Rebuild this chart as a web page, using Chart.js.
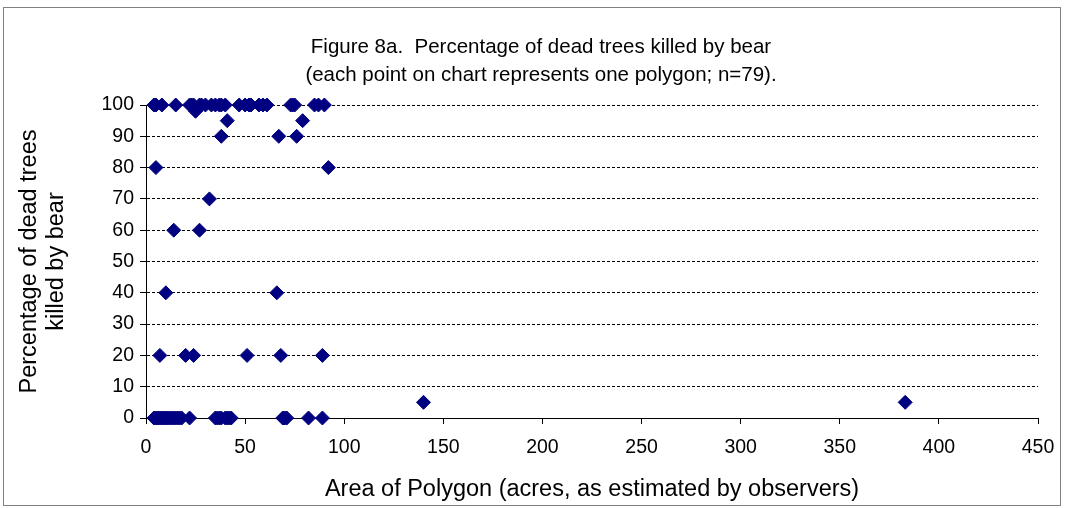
<!DOCTYPE html>
<html>
<head>
<meta charset="utf-8">
<script src="https://cdn.jsdelivr.net/npm/chart.js@4"></script>
<style>
  html, body { margin: 0; padding: 0; background: #fff; overflow: hidden; }
  #frame { position: absolute; left: 3px; top: 7px; width: 1058px; height: 499px; box-sizing: border-box; border: 1px solid #808080; }
  #wrap { position: absolute; left: 4px; top: 8px; width: 1074px; height: 496px; }
</style>
</head>
<body>
<div id="frame"></div>
<div id="wrap"><canvas id="chart"></canvas></div>
<script>
// area of each polygon (acres) and % of dead trees killed by bear, n=79
const areaAcres = [
  4, 5, 8, 15, 22, 23, 24, 27, 28, 30, 33, 35, 37, 38, 40, 47, 50, 52, 53, 57, 59, 61, 73, 74, 75, 85, 87, 90,
  25,
  41, 79,
  38, 67, 76,
  5, 92,
  32,
  14, 27,
  10, 66,
  7, 20, 24, 51, 68, 89,
  140, 383,
  4, 5, 6, 7, 8, 9, 10, 11, 12, 13, 14, 15, 16, 17, 18, 22, 35, 36, 37, 38, 40, 41, 42, 43, 69, 69.5, 70, 71, 82, 89
];
const pctKilled = [
  100, 100, 100, 100, 100, 100, 100, 100, 100, 100, 100, 100, 100, 100, 100, 100, 100, 100, 100, 100, 100, 100, 100, 100, 100, 100, 100, 100,
  98,
  95, 95,
  90, 90, 90,
  80, 80,
  70,
  60, 60,
  40, 40,
  20, 20, 20, 20, 20, 20,
  5, 5,
  0, 0, 0, 0, 0, 0, 0, 0, 0, 0, 0, 0, 0, 0, 0, 0, 0, 0, 0, 0, 0, 0, 0, 0, 0, 0, 0, 0, 0, 0
];

const titleLines = ['Figure 8a.  Percentage of dead trees killed by bear', '(each point on chart represents one polygon; n=79).'];
const xTitle = 'Area of Polygon (acres, as estimated by observers)';
const yTitle = ['Percentage of dead trees', 'killed by bear'];

const points = areaAcres.map((a, i) => ({ x: a, y: pctKilled[i] }));
const fontFam = '"Liberation Sans", Arial, sans-serif';

new Chart(document.getElementById('chart'), {
  type: 'scatter',
  data: {
    datasets: [{
      data: points,
      pointStyle: 'rectRot',
      pointRadius: 7,
      pointBackgroundColor: '#000080',
      pointBorderColor: '#000080',
      pointBorderWidth: 1,
      clip: false
    }]
  },
  options: {
    responsive: true,
    maintainAspectRatio: false,
    animation: false,
    layout: { padding: 0 },
    plugins: {
      legend: { display: false },
      tooltip: { enabled: false },
      title: {
        display: true,
        text: titleLines,
        color: '#000',
        font: { family: fontFam, size: 20.5, weight: 'normal', lineHeight: 1.366 },
        padding: { top: 25, bottom: 16 }
      }
    },
    scales: {
      x: {
        type: 'linear',
        min: 0, max: 450,
        ticks: { stepSize: 50, color: '#000', padding: 12, font: { family: fontFam, size: 19.5 } },
        grid: { drawOnChartArea: false, drawTicks: true, tickLength: 6, tickColor: '#000' },
        border: { display: true, color: '#000', width: 1 },
        title: { display: true, text: xTitle, color: '#000', font: { family: fontFam, size: 23.5 }, padding: { top: 0, bottom: 0 } },
        // fixed height, and the right margin kept here so the title stays centred on the whole canvas
        afterFit: (s) => { s.height = 86; s.paddingRight = 40; }
      },
      y: {
        min: 0, max: 100,
        ticks: { stepSize: 10, color: '#000', padding: 6, font: { family: fontFam, size: 19.5 } },
        grid: { color: '#000', tickBorderDash: [], tickColor: '#000', tickLength: 6 },
        border: { display: true, color: '#000', width: 1, dash: [3, 2] },
        title: { display: true, text: yTitle, color: '#000', font: { family: fontFam, size: 23.5, lineHeight: 1.15 }, padding: { top: 12, bottom: 0 } },
        afterFit: (s) => { s.width = 142; }
      }
    }
  }
});
</script>
</body>
</html>
